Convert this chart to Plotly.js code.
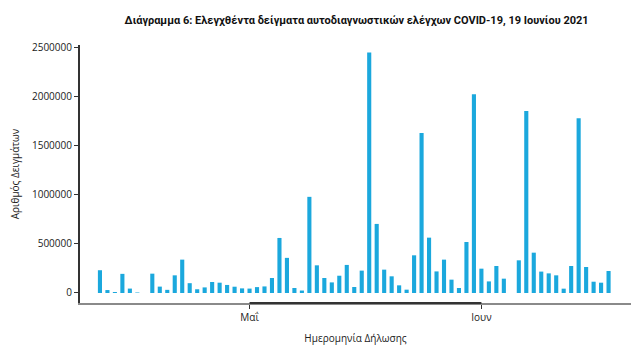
<!DOCTYPE html>
<html>
<head>
<meta charset="utf-8">
<script src="https://cdn.plot.ly/plotly-3.0.1.min.js"></script>
<style>html,body{margin:0;padding:0;background:#fff;}#chart{width:634px;height:353px;}</style>
</head>
<body>
<div id="chart"></div>
<script>
// Dates of declaration: 11 April 2021 to 18 June 2021
const startDate = '2021-04-11';
const samples = [
  232000, 30000, 10000, 195000, 45000, 5000, 0, 197000, 65000, 32000,
  180000, 340000, 100000, 38000, 57000, 112000, 105000, 82000, 64000, 47000,
  45000, 60000, 67000, 153000, 561000, 358000, 51000, 25000, 980000, 282000,
  153000, 108000, 176000, 286000, 61000, 228000, 2450000, 704000, 238000, 170000,
  78000, 34000, 384000, 1630000, 564000, 220000, 340000, 136000, 51000, 520000,
  2025000, 248000, 118000, 275000, 146000, 0, 333000, 1855000, 411000, 218000,
  200000, 180000, 44000, 275000, 1780000, 265000, 115000, 105000, 224000
];
const tickDates = ['2021-05-01', '2021-06-01'];
const tickLabels = ['Μαΐ', 'Ιουν'];
const yTicks = [0, 500000, 1000000, 1500000, 2000000, 2500000];
const titleText = 'Διάγραμμα 6: Ελεγχθέντα δείγματα αυτοδιαγνωστικών ελέγχων COVID-19, 19 Ιουνίου 2021';
const xTitle = 'Ημερομηνία Δήλωσης';
const yTitle = 'Αριθμός Δειγμάτων';

function addDays(s, n) {
  const d = new Date(s + 'T00:00:00Z');
  d.setUTCDate(d.getUTCDate() + n);
  return d.toISOString().slice(0, 10);
}
const dates = samples.map((_, i) => addDays(startDate, i));

const trace = {
  type: 'bar',
  x: dates,
  y: samples,
  marker: {color: '#1ba8dd'},
  hoverinfo: 'x+y'
};

const layout = {
  width: 634, height: 353,
  margin: {l: 80, r: 3, t: 45, b: 50},
  paper_bgcolor: '#fff', plot_bgcolor: '#fff',
  bargap: 0.45,
  showlegend: false,
  title: {
    text: titleText,
    font: {family: 'Roboto, sans-serif', size: 11, color: '#111', weight: 'bold'},
    x: 0.5625, xanchor: 'center', y: 0.943, yanchor: 'middle'
  },
  xaxis: {
    type: 'date',
    range: ['2021-04-08 08:00', '2021-06-21 00:00'],
    tickvals: tickDates, ticktext: tickLabels,
    ticks: 'outside', ticklen: 4, tickcolor: '#333', tickwidth: 1,
    showline: true, linecolor: '#8a8a8a', linewidth: 2,
    showgrid: false, zeroline: false,
    tickfont: {family: 'Open Sans, sans-serif', size: 10, color: '#222'},
    title: {text: xTitle, font: {family: 'Open Sans, sans-serif', size: 10, color: '#222'}, standoff: 12}
  },
  yaxis: {
    range: [-102000, 2527500],
    tickvals: yTicks,
    ticktext: yTicks.map(String),
    ticks: 'outside', ticklen: 4, tickcolor: '#333', tickwidth: 1,
    showline: true, linecolor: '#333', linewidth: 2,
    showgrid: false, zeroline: false,
    tickfont: {family: 'Open Sans, sans-serif', size: 10, color: '#222'},
    title: {text: yTitle, font: {family: 'Open Sans, sans-serif', size: 10, color: '#222'}, standoff: 10}
  },
  shapes: [{
    type: 'line', xref: 'x', yref: 'paper',
    x0: tickDates[0], x1: tickDates[tickDates.length - 1], y0: 0, y1: 0,
    line: {color: '#333', width: 2}
  }]
};

Plotly.newPlot('chart', [trace], layout, {displayModeBar: false, staticPlot: true});
</script>
</body>
</html>
